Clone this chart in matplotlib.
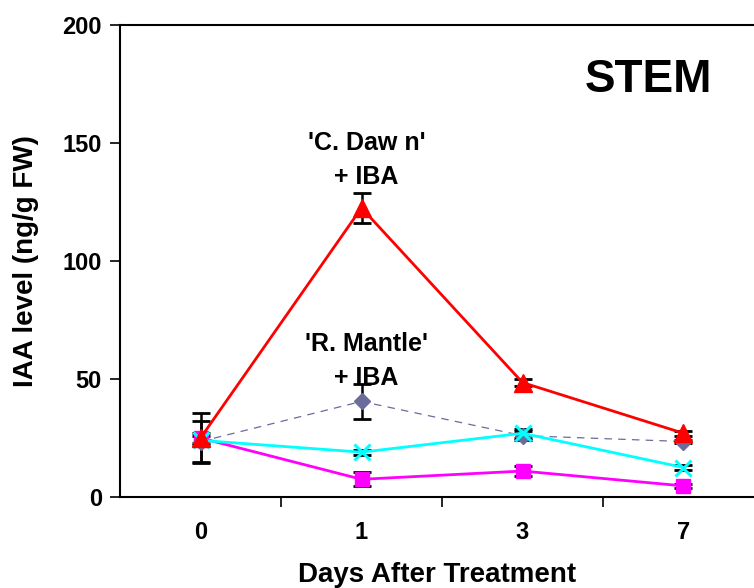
import matplotlib
matplotlib.use("Agg")
import matplotlib.pyplot as plt
import numpy as np

plt.rcParams['font.family'] = ['Liberation Sans', 'DejaVu Sans']
plt.rcParams['font.weight'] = 'bold'

days = ["0", "1", "3", "7"]

# 'C. Dawn' + IBA
dawn_iba = [25, 122.5, 48.5, 27]
dawn_iba_err = [10.5, 6.5, 1.5, 1]
# 'R. Mantle' + IBA
mantle_iba = [23.5, 40.5, 26, 23.5]
mantle_iba_err = [8.5, 7.5, 2, 0.5]
# cyan series
cyan_vals = [24, 19, 27, 12.5]
cyan_err = [2, 1, 2, 1]
# magenta series
magenta_vals = [25, 7.5, 11, 4.7]
magenta_err = [2, 3, 2, 1]

x = np.arange(len(days))

fig = plt.figure(figsize=(7.54, 5.88), dpi=100)
ax = fig.add_axes([120 / 754, 91 / 588, 634 / 754, 472 / 588])

ekw = dict(fmt="none", ecolor="black", elinewidth=1.8, capsize=6.5, capthick=2, zorder=2)
ax.errorbar(x, magenta_vals, yerr=magenta_err, **ekw)
ax.errorbar(x, cyan_vals, yerr=cyan_err, **ekw)
ax.errorbar(x, mantle_iba, yerr=mantle_iba_err, **ekw)
ax.errorbar(x, dawn_iba, yerr=dawn_iba_err, **ekw)

ax.plot(x, magenta_vals, color="#ff00ff", lw=2, marker="s", ms=10, zorder=3)
ax.plot(x, cyan_vals, color="#00ffff", lw=2, marker="x", ms=11, mew=2.2, zorder=4)
ax.plot(x, mantle_iba, color="#6b6b9c", lw=0.9, ls=(0, (6, 5)), marker="D", ms=8,
        mfc="#6b6b9c", mec="#6b6b9c", zorder=3)
ax.plot(x, dawn_iba, color="#ff0000", lw=2, marker="^", ms=13, zorder=5)

ax.set_xlim(-0.5, 634 / 161 - 0.5)
ax.set_ylim(0, 200)
ax.set_xticks(x)
ax.set_xticklabels(days)
ax.set_xticks([0.5, 1.5, 2.5], minor=True)
ax.tick_params(axis="x", which="major", length=0, pad=17, labelsize=17)
ax.tick_params(axis="x", which="minor", length=7, width=1.2, direction="out")
ax.set_yticks([0, 50, 100, 150, 200])
ax.tick_params(axis="y", length=7, width=1.2, direction="out", pad=6, labelsize=17)
for lab in ax.get_xticklabels() + ax.get_yticklabels():
    lab.set_fontweight("bold")

for s in ["left", "bottom", "top"]:
    ax.spines[s].set_linewidth(1.5)
ax.spines["right"].set_visible(False)

ax.set_ylabel("IAA level (ng/g FW)", fontsize=20, fontweight="bold", labelpad=17)
ax.set_xlabel("Days After Treatment", fontsize=20, fontweight="bold", labelpad=13)

ax.text(1.03, 150, "'C. Daw n'", ha="center", va="center", fontsize=18, fontweight="bold")
ax.text(1.03, 135.5, "+ IBA", ha="center", va="center", fontsize=18, fontweight="bold")
ax.text(1.03, 65, "'R. Mantle'", ha="center", va="center", fontsize=18, fontweight="bold")
ax.text(1.03, 50.5, "+ IBA", ha="center", va="center", fontsize=18, fontweight="bold")
ax.text(2.78, 176.5, "STEM", ha="center", va="center", fontsize=33, fontweight="bold")

fig.savefig("out.png", dpi=100)
